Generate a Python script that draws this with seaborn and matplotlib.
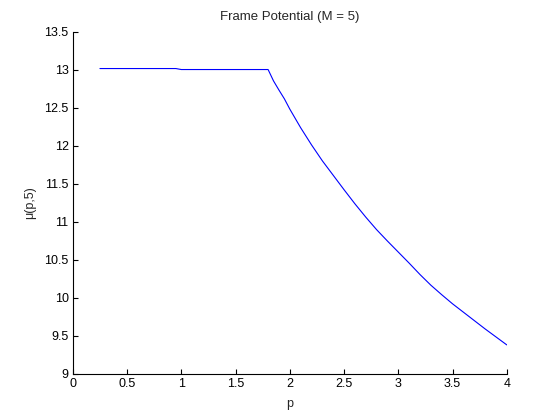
import matplotlib
matplotlib.use("Agg")
import matplotlib.pyplot as plt
import seaborn as sns
import pandas as pd

p_values = [0.25, 0.95, 1.0, 1.8, 1.85, 1.9, 1.95, 2.0, 2.1, 2.2, 2.3, 2.4, 2.5,
            2.6, 2.7, 2.8, 2.9, 3.0, 3.1, 3.2, 3.3, 3.4, 3.5, 3.6, 3.7, 3.8, 3.9, 4.0]
mu_values = [13.013, 13.013, 13.0, 13.0, 12.85, 12.73, 12.615, 12.48, 12.235, 12.01,
             11.80, 11.61, 11.42, 11.235, 11.06, 10.895, 10.745, 10.60, 10.455, 10.305,
             10.165, 10.04, 9.92, 9.81, 9.70, 9.59, 9.485, 9.38]
x_ticks = [0, 0.5, 1, 1.5, 2, 2.5, 3, 3.5, 4]
x_tick_labels = ["0", "0.5", "1", "1.5", "2", "2.5", "3", "3.5", "4"]
y_ticks = [9, 9.5, 10, 10.5, 11, 11.5, 12, 12.5, 13, 13.5]
y_tick_labels = ["9", "9.5", "10", "10.5", "11", "11.5", "12", "12.5", "13", "13.5"]
title = "Frame Potential (M = 5)"
x_label = "p"
y_label = "μ(p,5)"

sns.set_theme(style="white")
plt.rcParams["font.family"] = ["Liberation Sans", "DejaVu Sans"]

df = pd.DataFrame({"p": p_values, "mu": mu_values})

fig = plt.figure(figsize=(5.6, 4.2), dpi=100)
fig.patch.set_facecolor("white")
ax = fig.add_axes([0.13, 0.11, 0.775, 0.815])
sns.lineplot(data=df, x="p", y="mu", ax=ax, color="#0000ff", linewidth=0.8,
             estimator=None, sort=False)

ax.set_xlim(0, 4)
ax.set_ylim(9, 13.5)
ax.set_xticks(x_ticks)
ax.set_xticklabels(x_tick_labels)
ax.set_yticks(y_ticks)
ax.set_yticklabels(y_tick_labels)
ax.tick_params(direction="in", length=3.5, width=0.8, labelsize=9, pad=3,
               colors="black", bottom=True, left=True)
for s in ["top", "right"]:
    ax.spines[s].set_visible(False)
for s in ["left", "bottom"]:
    ax.spines[s].set_color("black")
    ax.spines[s].set_linewidth(0.8)
ax.set_title(title, fontsize=9.5, pad=8)
ax.set_xlabel(x_label, fontsize=9, labelpad=6)
ax.set_ylabel(y_label, fontsize=9, labelpad=6)
ax.grid(False)

fig.savefig("out.png", dpi=100, facecolor="white")
